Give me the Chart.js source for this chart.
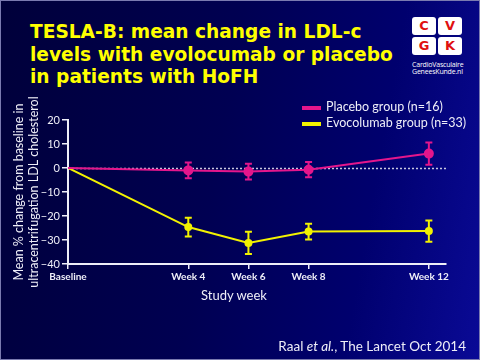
<!DOCTYPE html>
<html>
<head>
<meta charset="utf-8">
<script src="https://cdn.jsdelivr.net/npm/chart.js@4/dist/chart.umd.min.js"></script>
<style>
  html, body { margin: 0; padding: 0; }
  body { width: 480px; height: 360px; overflow: hidden; }
  #slide {
    position: relative; width: 478px; height: 358px;
    border: 1px solid #7a7ab0;
    background: linear-gradient(100deg, #00003a 0%, #000052 45%, #00006e 75%, #0a0a96 100%);
    font-family: Lato, "Open Sans", sans-serif;
  }
  #title {
    position: absolute; left: 29px; top: 20px;
    color: #ffff00; font: bold 18.6px "DejaVu Sans", sans-serif; line-height: 22.5px;
  }
  #logo { position: absolute; left: 411px; top: 16px; width: 50px; }
  #logo .sq {
    position: absolute; width: 24px; height: 18px; background: #fff; border-radius: 3px;
    color: #e01010; font: bold 13px "DejaVu Sans", sans-serif; text-align: center; line-height: 18px;
  }
  #logo .txt {
    position: absolute; top: 44px; left: 0; width: 50px; color: #fff; font: 7px "Open Sans", sans-serif;
    line-height: 7px; text-align: center; letter-spacing: -0.2px;
  }
  #legend { position: absolute; left: 301px; top: 98px; color: #eeeef8; font-size: 12.5px; }
  #legend div { height: 16px; line-height: 16px; white-space: nowrap; }
  #legend span.sw { display: inline-block; width: 19px; height: 4px; margin-right: 5px; vertical-align: middle; }
  #xtitle { position: absolute; left: 200px; top: 286px; color: #eeeef8; font-size: 13px; }
  #cite { position: absolute; right: 13px; top: 337px; color: #eeeef8; font-size: 13.5px; }
  canvas { position: absolute; left: 0; top: 0; }
</style>
</head>
<body>
<div id="slide">
  <div id="title">TESLA-B: mean change in LDL-c<br>levels with evolocumab or placebo<br>in patients with HoFH</div>
  <div id="logo">
    <div class="sq" style="left:0;top:0">C</div>
    <div class="sq" style="left:26px;top:0">V</div>
    <div class="sq" style="left:0;top:20px">G</div>
    <div class="sq" style="left:26px;top:20px">K</div>
    <div class="txt">CardioVasculaire<br>GeneesKunde.nl</div>
  </div>
  <div id="chartBox" style="position:absolute;left:0;top:0;width:480px;height:360px">
    <canvas id="ldlChart" width="480" height="360"></canvas>
  </div>
  <div id="legend"></div>
  <div id="xtitle">Study week</div>
  <div id="cite">Raal <i>et al.</i>, The Lancet Oct 2014</div>
</div>
<script>
// Data dari grafik
const weeks = [0, 4, 6, 8, 12];
const weekLabels = ['Baseline', 'Week 4', 'Week 6', 'Week 8', 'Week 12'];
const yTicks = [-40, -30, -20, -10, 0, 10, 20];

const placeboMean = [0, -1.0, -1.5, -0.7, 6.0];
const placeboErr = [0, 3.3, 3.3, 3.2, 4.6];
const evoMean = [0, -24.6, -31.2, -26.5, -26.3];
const evoErr = [0, 3.9, 4.6, 3.3, 4.4];

const pink = '#e4168c';
const yellow = '#f2f200';
const white = '#eeeef8';

function toPoints(mean) {
    return weeks.map((w, i) => ({ x: w, y: mean[i] }));
}

// garis putus-putus di nol + error bar
const extras = {
    id: 'extras',
    beforeDatasetsDraw(chart) {
        const { ctx, chartArea, scales } = chart;
        const y0 = Math.round(scales.y.getPixelForValue(0)) + 0.5;
        ctx.save();
        ctx.strokeStyle = '#c8c8e0';
        ctx.lineWidth = 1.5;
        ctx.setLineDash([2, 2]);
        ctx.beginPath();
        ctx.moveTo(chartArea.left, y0);
        ctx.lineTo(chartArea.right, y0);
        ctx.stroke();
        ctx.restore();
    },
    afterDatasetsDraw(chart) {
        const { ctx, scales } = chart;
        chart.data.datasets.forEach((ds, di) => {
            const meta = chart.getDatasetMeta(di);
            ctx.save();
            ctx.strokeStyle = ds.borderColor;
            ctx.lineWidth = 2;
            meta.data.forEach((pt, i) => {
                const e = ds.errors[i];
                if (!e) return;
                const v = ds.data[i].y;
                const top = scales.y.getPixelForValue(v + e);
                const bot = scales.y.getPixelForValue(v - e);
                ctx.beginPath();
                ctx.moveTo(pt.x, top); ctx.lineTo(pt.x, bot);
                ctx.moveTo(pt.x - 3.5, top); ctx.lineTo(pt.x + 3.5, top);
                ctx.moveTo(pt.x - 3.5, bot); ctx.lineTo(pt.x + 3.5, bot);
                ctx.stroke();
            });
            ctx.restore();
        });
    }
};

const ctx = document.getElementById('ldlChart').getContext('2d');
const ldlChart = new Chart(ctx, {
    type: 'line',
    data: {
        datasets: [
            {
                label: 'Placebo group (n=16)',
                data: toPoints(placeboMean),
                errors: placeboErr,
                borderColor: pink,
                backgroundColor: pink,
                borderWidth: 2,
                pointRadius: [0, 4, 4, 4, 4],
                pointHoverRadius: 4,
                tension: 0
            },
            {
                label: 'Evocolumab group (n=33)',
                data: toPoints(evoMean),
                errors: evoErr,
                borderColor: yellow,
                backgroundColor: yellow,
                borderWidth: 2,
                pointRadius: [0, 3, 3, 3, 3],
                pointHoverRadius: 3,
                tension: 0
            }
        ]
    },
    options: {
        responsive: false,
        animation: false,
        layout: { padding: { left: 10, right: 35, top: 119, bottom: 0 } },
        plugins: { legend: { display: false }, tooltip: { enabled: false } },
        scales: {
            x: {
                type: 'linear',
                min: 0,
                max: 12.57,
                afterBuildTicks: (scale) => { scale.ticks = weeks.map(v => ({ value: v })); },
                afterFit: (scale) => { scale.height = 97; },
                ticks: {
                    color: white,
                    font: { family: 'Lato', size: 10, weight: 'bold' },
                    padding: 2,
                    maxRotation: 0,
                    autoSkip: false,
                    callback: (v) => weekLabels[weeks.indexOf(v)]
                },
                grid: { drawOnChartArea: false, drawTicks: true, tickLength: 5, color: white, lineWidth: 1.5 },
                border: { color: white, width: 2 }
            },
            y: {
                min: -40,
                max: 20,
                afterBuildTicks: (scale) => { scale.ticks = yTicks.map(v => ({ value: v })); },
                afterFit: (scale) => { scale.width = 57; },
                ticks: {
                    color: white,
                    font: { family: 'Lato', size: 11 },
                    padding: 2,
                    callback: (v) => v < 0 ? '\u2212' + Math.abs(v) : String(v)
                },
                grid: { drawOnChartArea: false, drawTicks: true, tickLength: 6, color: white, lineWidth: 1.5 },
                border: { color: white, width: 2 },
                title: {
                    display: true,
                    text: ['Mean % change from baseline in', 'ultracentrifugation LDL cholesterol'],
                    color: white,
                    font: { family: 'Lato', size: 12.5, lineHeight: 1.2 },
                    padding: { top: 0, bottom: 0 }
                }
            }
        }
    },
    plugins: [extras]
});

// legenda HTML dari dataset
const legendEl = document.getElementById('legend');
ldlChart.data.datasets.forEach(ds => {
    const row = document.createElement('div');
    row.innerHTML = '<span class="sw" style="background:' + ds.borderColor + '"></span>' + ds.label;
    legendEl.appendChild(row);
});
</script>
</body>
</html>
